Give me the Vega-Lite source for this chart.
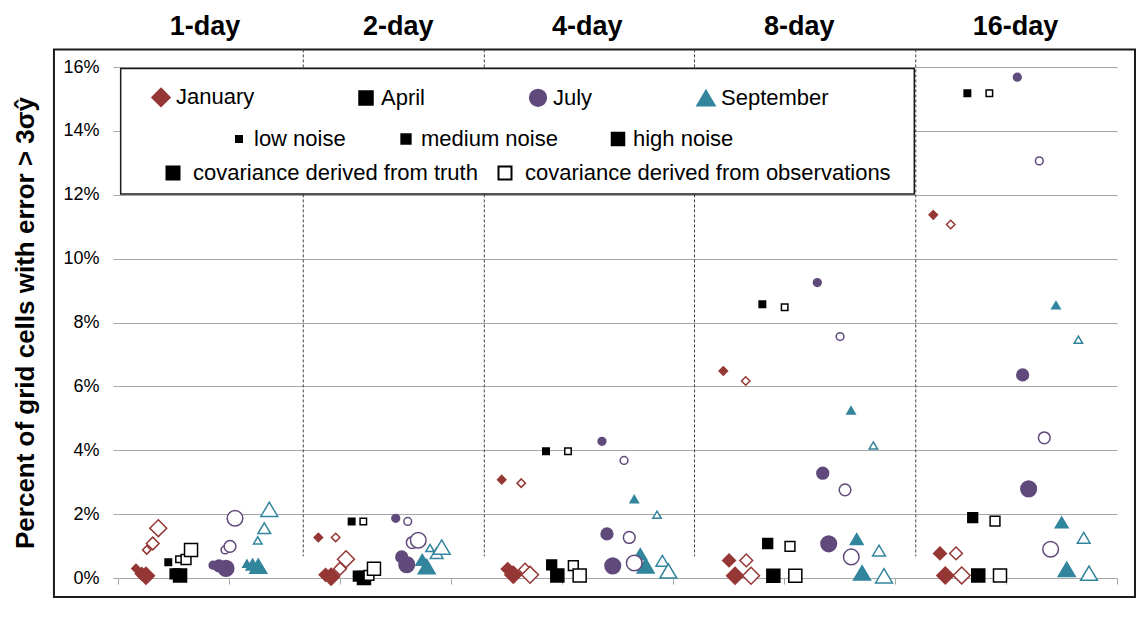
{
  "$schema": "https://vega.github.io/schema/vega-lite/v6.json",
  "width": 999,
  "height": 511,
  "autosize": {"type": "none"},
  "padding": {"left": 118, "top": 67, "right": 28, "bottom": 62},
  "background": "white",
  "config": {"view": {"stroke": null}, "font": "Liberation Sans"},
  "resolve": {
    "axis": {"x": "independent", "y": "independent"},
    "scale": {"fill": "independent", "shape": "independent", "stroke": "independent", "size": "independent"}
  },
  "datasets": {
    "seps": [{"x": 1.669}, {"x": 3.3}, {"x": 5.194}, {"x": 7.187}],
    "one": [{}],
    "points": [
      {"day": "1-day", "month": "January", "noise": "low", "cov": "truth", "x": 0.162, "pct": 0.30},
      {"day": "1-day", "month": "January", "noise": "medium", "cov": "truth", "x": 0.214, "pct": 0.13},
      {"day": "1-day", "month": "January", "noise": "high", "cov": "truth", "x": 0.252, "pct": 0.07},
      {"day": "1-day", "month": "January", "noise": "low", "cov": "observations", "x": 0.259, "pct": 0.88},
      {"day": "1-day", "month": "January", "noise": "medium", "cov": "observations", "x": 0.313, "pct": 1.08},
      {"day": "1-day", "month": "January", "noise": "high", "cov": "observations", "x": 0.363, "pct": 1.56},
      {"day": "1-day", "month": "April", "noise": "low", "cov": "truth", "x": 0.453, "pct": 0.49},
      {"day": "1-day", "month": "April", "noise": "medium", "cov": "truth", "x": 0.514, "pct": 0.13},
      {"day": "1-day", "month": "April", "noise": "high", "cov": "truth", "x": 0.559, "pct": 0.08},
      {"day": "1-day", "month": "April", "noise": "low", "cov": "observations", "x": 0.550, "pct": 0.59},
      {"day": "1-day", "month": "April", "noise": "medium", "cov": "observations", "x": 0.613, "pct": 0.58},
      {"day": "1-day", "month": "April", "noise": "high", "cov": "observations", "x": 0.658, "pct": 0.88},
      {"day": "1-day", "month": "July", "noise": "low", "cov": "truth", "x": 0.856, "pct": 0.40},
      {"day": "1-day", "month": "July", "noise": "medium", "cov": "truth", "x": 0.910, "pct": 0.38},
      {"day": "1-day", "month": "July", "noise": "high", "cov": "truth", "x": 0.973, "pct": 0.30},
      {"day": "1-day", "month": "July", "noise": "low", "cov": "observations", "x": 0.964, "pct": 0.88},
      {"day": "1-day", "month": "July", "noise": "medium", "cov": "observations", "x": 1.009, "pct": 0.99},
      {"day": "1-day", "month": "July", "noise": "high", "cov": "observations", "x": 1.054, "pct": 1.87},
      {"day": "1-day", "month": "September", "noise": "low", "cov": "truth", "x": 1.162, "pct": 0.45},
      {"day": "1-day", "month": "September", "noise": "medium", "cov": "truth", "x": 1.212, "pct": 0.42},
      {"day": "1-day", "month": "September", "noise": "high", "cov": "truth", "x": 1.264, "pct": 0.37},
      {"day": "1-day", "month": "September", "noise": "low", "cov": "observations", "x": 1.259, "pct": 1.18},
      {"day": "1-day", "month": "September", "noise": "medium", "cov": "observations", "x": 1.318, "pct": 1.56},
      {"day": "1-day", "month": "September", "noise": "high", "cov": "observations", "x": 1.363, "pct": 2.15},

      {"day": "2-day", "month": "January", "noise": "low", "cov": "truth", "x": 1.805, "pct": 1.27},
      {"day": "2-day", "month": "January", "noise": "medium", "cov": "truth", "x": 1.870, "pct": 0.10},
      {"day": "2-day", "month": "January", "noise": "high", "cov": "truth", "x": 1.920, "pct": 0.04},
      {"day": "2-day", "month": "January", "noise": "low", "cov": "observations", "x": 1.961, "pct": 1.27},
      {"day": "2-day", "month": "January", "noise": "medium", "cov": "observations", "x": 2.000, "pct": 0.29},
      {"day": "2-day", "month": "January", "noise": "high", "cov": "observations", "x": 2.054, "pct": 0.59},
      {"day": "2-day", "month": "April", "noise": "low", "cov": "truth", "x": 2.105, "pct": 1.77},
      {"day": "2-day", "month": "April", "noise": "medium", "cov": "truth", "x": 2.165, "pct": 0.06},
      {"day": "2-day", "month": "April", "noise": "high", "cov": "truth", "x": 2.216, "pct": 0.0},
      {"day": "2-day", "month": "April", "noise": "low", "cov": "observations", "x": 2.210, "pct": 1.77},
      {"day": "2-day", "month": "April", "noise": "medium", "cov": "observations", "x": 2.261, "pct": 0.08},
      {"day": "2-day", "month": "April", "noise": "high", "cov": "observations", "x": 2.306, "pct": 0.29},
      {"day": "2-day", "month": "July", "noise": "low", "cov": "truth", "x": 2.502, "pct": 1.87},
      {"day": "2-day", "month": "July", "noise": "medium", "cov": "truth", "x": 2.556, "pct": 0.66},
      {"day": "2-day", "month": "July", "noise": "high", "cov": "truth", "x": 2.601, "pct": 0.42},
      {"day": "2-day", "month": "July", "noise": "low", "cov": "observations", "x": 2.610, "pct": 1.77},
      {"day": "2-day", "month": "July", "noise": "medium", "cov": "observations", "x": 2.651, "pct": 1.11},
      {"day": "2-day", "month": "July", "noise": "high", "cov": "observations", "x": 2.705, "pct": 1.18},
      {"day": "2-day", "month": "September", "noise": "low", "cov": "truth", "x": 2.700, "pct": 1.15},
      {"day": "2-day", "month": "September", "noise": "medium", "cov": "truth", "x": 2.741, "pct": 0.57},
      {"day": "2-day", "month": "September", "noise": "high", "cov": "truth", "x": 2.781, "pct": 0.36},
      {"day": "2-day", "month": "September", "noise": "low", "cov": "observations", "x": 2.811, "pct": 0.94},
      {"day": "2-day", "month": "September", "noise": "medium", "cov": "observations", "x": 2.871, "pct": 0.78},
      {"day": "2-day", "month": "September", "noise": "high", "cov": "observations", "x": 2.916, "pct": 0.97},

      {"day": "4-day", "month": "January", "noise": "low", "cov": "truth", "x": 3.457, "pct": 3.08},
      {"day": "4-day", "month": "January", "noise": "medium", "cov": "truth", "x": 3.511, "pct": 0.28},
      {"day": "4-day", "month": "January", "noise": "high", "cov": "truth", "x": 3.561, "pct": 0.10},
      {"day": "4-day", "month": "January", "noise": "low", "cov": "observations", "x": 3.633, "pct": 2.97},
      {"day": "4-day", "month": "January", "noise": "medium", "cov": "observations", "x": 3.667, "pct": 0.26},
      {"day": "4-day", "month": "January", "noise": "high", "cov": "observations", "x": 3.712, "pct": 0.10},
      {"day": "4-day", "month": "April", "noise": "low", "cov": "truth", "x": 3.856, "pct": 3.97},
      {"day": "4-day", "month": "April", "noise": "medium", "cov": "truth", "x": 3.907, "pct": 0.41},
      {"day": "4-day", "month": "April", "noise": "high", "cov": "truth", "x": 3.958, "pct": 0.08},
      {"day": "4-day", "month": "April", "noise": "low", "cov": "observations", "x": 4.054, "pct": 3.97},
      {"day": "4-day", "month": "April", "noise": "medium", "cov": "observations", "x": 4.102, "pct": 0.39},
      {"day": "4-day", "month": "April", "noise": "high", "cov": "observations", "x": 4.159, "pct": 0.08},
      {"day": "4-day", "month": "July", "noise": "low", "cov": "truth", "x": 4.360, "pct": 4.28},
      {"day": "4-day", "month": "July", "noise": "medium", "cov": "truth", "x": 4.405, "pct": 1.38},
      {"day": "4-day", "month": "July", "noise": "high", "cov": "truth", "x": 4.457, "pct": 0.38},
      {"day": "4-day", "month": "July", "noise": "low", "cov": "observations", "x": 4.559, "pct": 3.68},
      {"day": "4-day", "month": "July", "noise": "medium", "cov": "observations", "x": 4.606, "pct": 1.27},
      {"day": "4-day", "month": "July", "noise": "high", "cov": "observations", "x": 4.651, "pct": 0.47},
      {"day": "4-day", "month": "September", "noise": "low", "cov": "truth", "x": 4.651, "pct": 2.47},
      {"day": "4-day", "month": "September", "noise": "medium", "cov": "truth", "x": 4.705, "pct": 0.75},
      {"day": "4-day", "month": "September", "noise": "high", "cov": "truth", "x": 4.754, "pct": 0.38},
      {"day": "4-day", "month": "September", "noise": "low", "cov": "observations", "x": 4.856, "pct": 1.98},
      {"day": "4-day", "month": "September", "noise": "medium", "cov": "observations", "x": 4.904, "pct": 0.54},
      {"day": "4-day", "month": "September", "noise": "high", "cov": "observations", "x": 4.958, "pct": 0.22},

      {"day": "8-day", "month": "January", "noise": "low", "cov": "truth", "x": 5.453, "pct": 6.48},
      {"day": "8-day", "month": "January", "noise": "medium", "cov": "truth", "x": 5.505, "pct": 0.55},
      {"day": "8-day", "month": "January", "noise": "high", "cov": "truth", "x": 5.559, "pct": 0.07},
      {"day": "8-day", "month": "January", "noise": "low", "cov": "observations", "x": 5.655, "pct": 6.17},
      {"day": "8-day", "month": "January", "noise": "medium", "cov": "observations", "x": 5.660, "pct": 0.55},
      {"day": "8-day", "month": "January", "noise": "high", "cov": "observations", "x": 5.703, "pct": 0.07},
      {"day": "8-day", "month": "April", "noise": "low", "cov": "truth", "x": 5.805, "pct": 8.57},
      {"day": "8-day", "month": "April", "noise": "medium", "cov": "truth", "x": 5.853, "pct": 1.08},
      {"day": "8-day", "month": "April", "noise": "high", "cov": "truth", "x": 5.904, "pct": 0.07},
      {"day": "8-day", "month": "April", "noise": "low", "cov": "observations", "x": 6.006, "pct": 8.48},
      {"day": "8-day", "month": "April", "noise": "medium", "cov": "observations", "x": 6.054, "pct": 0.99},
      {"day": "8-day", "month": "April", "noise": "high", "cov": "observations", "x": 6.102, "pct": 0.07},
      {"day": "8-day", "month": "July", "noise": "low", "cov": "truth", "x": 6.300, "pct": 9.25},
      {"day": "8-day", "month": "July", "noise": "medium", "cov": "truth", "x": 6.349, "pct": 3.28},
      {"day": "8-day", "month": "July", "noise": "high", "cov": "truth", "x": 6.403, "pct": 1.07},
      {"day": "8-day", "month": "July", "noise": "low", "cov": "observations", "x": 6.505, "pct": 7.56},
      {"day": "8-day", "month": "July", "noise": "medium", "cov": "observations", "x": 6.550, "pct": 2.76},
      {"day": "8-day", "month": "July", "noise": "high", "cov": "observations", "x": 6.606, "pct": 0.66},
      {"day": "8-day", "month": "September", "noise": "low", "cov": "truth", "x": 6.604, "pct": 5.25},
      {"day": "8-day", "month": "September", "noise": "medium", "cov": "truth", "x": 6.655, "pct": 1.22},
      {"day": "8-day", "month": "September", "noise": "high", "cov": "truth", "x": 6.703, "pct": 0.16},
      {"day": "8-day", "month": "September", "noise": "low", "cov": "observations", "x": 6.805, "pct": 4.15},
      {"day": "8-day", "month": "September", "noise": "medium", "cov": "observations", "x": 6.856, "pct": 0.86},
      {"day": "8-day", "month": "September", "noise": "high", "cov": "observations", "x": 6.901, "pct": 0.07},

      {"day": "16-day", "month": "January", "noise": "low", "cov": "truth", "x": 7.345, "pct": 11.37},
      {"day": "16-day", "month": "January", "noise": "medium", "cov": "truth", "x": 7.405, "pct": 0.77},
      {"day": "16-day", "month": "January", "noise": "high", "cov": "truth", "x": 7.453, "pct": 0.08},
      {"day": "16-day", "month": "January", "noise": "low", "cov": "observations", "x": 7.502, "pct": 11.07},
      {"day": "16-day", "month": "January", "noise": "medium", "cov": "observations", "x": 7.550, "pct": 0.77},
      {"day": "16-day", "month": "January", "noise": "high", "cov": "observations", "x": 7.601, "pct": 0.08},
      {"day": "16-day", "month": "April", "noise": "low", "cov": "truth", "x": 7.652, "pct": 15.18},
      {"day": "16-day", "month": "April", "noise": "medium", "cov": "truth", "x": 7.700, "pct": 1.89},
      {"day": "16-day", "month": "April", "noise": "high", "cov": "truth", "x": 7.750, "pct": 0.08},
      {"day": "16-day", "month": "April", "noise": "low", "cov": "observations", "x": 7.850, "pct": 15.18},
      {"day": "16-day", "month": "April", "noise": "medium", "cov": "observations", "x": 7.901, "pct": 1.78},
      {"day": "16-day", "month": "April", "noise": "high", "cov": "observations", "x": 7.946, "pct": 0.08},
      {"day": "16-day", "month": "July", "noise": "low", "cov": "truth", "x": 8.102, "pct": 15.68},
      {"day": "16-day", "month": "July", "noise": "medium", "cov": "truth", "x": 8.150, "pct": 6.36},
      {"day": "16-day", "month": "July", "noise": "high", "cov": "truth", "x": 8.204, "pct": 2.79},
      {"day": "16-day", "month": "July", "noise": "low", "cov": "observations", "x": 8.300, "pct": 13.06},
      {"day": "16-day", "month": "July", "noise": "medium", "cov": "observations", "x": 8.345, "pct": 4.39},
      {"day": "16-day", "month": "July", "noise": "high", "cov": "observations", "x": 8.402, "pct": 0.90},
      {"day": "16-day", "month": "September", "noise": "low", "cov": "truth", "x": 8.450, "pct": 8.54},
      {"day": "16-day", "month": "September", "noise": "medium", "cov": "truth", "x": 8.502, "pct": 1.74},
      {"day": "16-day", "month": "September", "noise": "high", "cov": "truth", "x": 8.547, "pct": 0.27},
      {"day": "16-day", "month": "September", "noise": "low", "cov": "observations", "x": 8.652, "pct": 7.46},
      {"day": "16-day", "month": "September", "noise": "medium", "cov": "observations", "x": 8.700, "pct": 1.26},
      {"day": "16-day", "month": "September", "noise": "high", "cov": "observations", "x": 8.748, "pct": 0.15}
    ]
  },
  "layer": [
    {
      "data": {"name": "one"},
      "mark": {"type": "rect", "fill": null, "stroke": "#1a1a1a", "strokeWidth": 2},
      "encoding": {
        "x": {"datum": -0.577, "type": "quantitative", "scale": {"domain": [0, 9], "nice": false, "zero": false}, "axis": null},
        "x2": {"datum": 9.162},
        "y": {"datum": 16.55, "type": "quantitative", "scale": {"domain": [0, 16], "nice": false}, "axis": null},
        "y2": {"datum": -0.594}
      }
    },
    {
      "data": {"name": "seps"},
      "mark": {"type": "rule", "stroke": "#404040", "strokeWidth": 1, "strokeDash": [3, 2]},
      "encoding": {
        "x": {
          "field": "x", "type": "quantitative",
          "scale": {"domain": [0, 9], "nice": false, "zero": false},
          "axis": {
            "orient": "top", "values": [0.779, 2.52, 4.223, 6.133, 8.081],
            "labelExpr": "datum.value < 1.5 ? '1-day' : datum.value < 3.5 ? '2-day' : datum.value < 5 ? '4-day' : datum.value < 7 ? '8-day' : '16-day'",
            "ticks": false, "tickSize": 0, "domain": false, "grid": false,
            "labelFontSize": 27, "labelFontWeight": "bold", "labelColor": "#000000",
            "labelPadding": 33, "labelBaseline": "alphabetic", "labelOverlap": false, "labelFlush": false,
            "title": null
          }
        },
        "y": {"datum": 16.55, "type": "quantitative", "scale": {"domain": [0, 16], "nice": false}, "axis": null},
        "y2": {"datum": 0.68}
      }
    },
    {
      "data": {"name": "one"},
      "mark": {"type": "rect", "fill": "white", "stroke": "#1a1a1a", "strokeWidth": 1.5},
      "encoding": {
        "x": {"datum": 0.024, "type": "quantitative", "scale": {"domain": [0, 9], "nice": false, "zero": false}, "axis": null},
        "x2": {"datum": 7.174},
        "y": {"datum": 15.95, "type": "quantitative", "scale": {"domain": [0, 16], "nice": false}, "axis": null},
        "y2": {"datum": 12.02}
      }
    },
    {
      "data": {"name": "points"},
      "transform": [{"filter": "datum.cov === 'truth'"}],
      "mark": {"type": "point", "filled": true, "strokeWidth": 1.5, "opacity": 1},
      "encoding": {
        "x": {
          "field": "x", "type": "quantitative",
          "scale": {"domain": [0, 9], "nice": false, "zero": false},
          "axis": {
            "orient": "bottom", "values": [0, 1, 2, 3, 4, 5, 6, 7, 8, 9],
            "labels": false, "ticks": true, "tickSize": 6, "tickColor": "#A6A6A6", "tickWidth": 1,
            "domain": false, "grid": false, "title": null
          }
        },
        "y": {
          "field": "pct", "type": "quantitative",
          "scale": {"domain": [0, 16], "nice": false},
          "axis": {
            "values": [0, 2, 4, 6, 8, 10, 12, 14, 16],
            "labelExpr": "datum.value + '%'",
            "grid": true, "gridColor": "#A6A6A6", "gridWidth": 1,
            "ticks": true, "tickColor": "#A6A6A6", "tickSize": 5, "domain": false,
            "labelFontSize": 18, "labelColor": "#000000", "labelPadding": 14,
            "title": "Percent of grid cells with error > 3σŷ",
            "titleFontSize": 26, "titleFontWeight": "bold", "titleColor": "#000000", "titlePadding": 24
          }
        },
        "shape": {
          "field": "month", "type": "nominal",
          "scale": {
            "domain": ["January", "April", "July", "September"],
            "range": ["M0,-1.3L1.3,0L0,1.3L-1.3,0Z", "M-1,-1L1,-1L1,1L-1,1Z", "M1.2,0A1.2,1.2,0,1,1,-1.2,0A1.2,1.2,0,1,1,1.2,0Z", "M0,-1.1L1.3,1.1L-1.3,1.1Z"]
          },
          "legend": {
            "orient": "none", "legendX": 32, "legendY": 19, "direction": "horizontal", "columns": 4,
            "columnPadding": 100, "title": null, "labelFontSize": 22, "labelColor": "#000000",
            "labelOffset": 4, "labelLimit": 500, "symbolSize": 196, "symbolStrokeWidth": 1.5, "padding": 0
          }
        },
        "fill": {
          "field": "month", "type": "nominal",
          "scale": {"domain": ["January", "April", "July", "September"], "range": ["#953735", "#000000", "#604A7B", "#31859C"]}
        },
        "stroke": {
          "field": "month", "type": "nominal",
          "scale": {"domain": ["January", "April", "July", "September"], "range": ["#953735", "#000000", "#604A7B", "#31859C"]}
        },
        "size": {
          "field": "noise", "type": "ordinal",
          "scale": {"type": "ordinal", "domain": ["low", "medium", "high"], "range": [42, 96, 169]},
          "legend": {
            "orient": "none", "legendX": 110, "legendY": 61, "direction": "horizontal", "columns": 3,
            "columnPadding": 49, "title": null, "labelFontSize": 22, "labelColor": "#000000",
            "labelOffset": 4, "labelLimit": 500, "labelExpr": "datum.label + ' noise'",
            "symbolType": "square", "symbolFillColor": "#000000", "symbolStrokeColor": "#000000",
            "symbolStrokeWidth": 1.5, "padding": 0
          }
        }
      }
    },
    {
      "data": {"name": "points"},
      "transform": [{"filter": "datum.cov === 'observations'"}],
      "mark": {"type": "point", "filled": true, "strokeWidth": 1.5, "opacity": 1},
      "encoding": {
        "x": {"field": "x", "type": "quantitative", "scale": {"domain": [0, 9], "nice": false, "zero": false}, "axis": null},
        "y": {"field": "pct", "type": "quantitative", "scale": {"domain": [0, 16], "nice": false}, "axis": null},
        "shape": {
          "field": "month", "type": "nominal",
          "scale": {
            "domain": ["January", "April", "July", "September"],
            "range": ["M0,-1.3L1.3,0L0,1.3L-1.3,0Z", "M-1,-1L1,-1L1,1L-1,1Z", "M1.2,0A1.2,1.2,0,1,1,-1.2,0A1.2,1.2,0,1,1,1.2,0Z", "M0,-1.1L1.3,1.1L-1.3,1.1Z"]
          },
          "legend": null
        },
        "stroke": {
          "field": "month", "type": "nominal",
          "scale": {"domain": ["January", "April", "July", "September"], "range": ["#953735", "#000000", "#604A7B", "#31859C"]},
          "legend": null
        },
        "size": {
          "field": "noise", "type": "ordinal",
          "scale": {"type": "ordinal", "domain": ["low", "medium", "high"], "range": [42, 96, 169]},
          "legend": null
        },
        "fill": {
          "field": "cov", "type": "nominal",
          "scale": {"domain": ["truth", "observations"], "range": ["#000000", "#ffffff"]},
          "legend": {
            "orient": "none", "legendX": 44, "legendY": 95, "direction": "horizontal", "columns": 2,
            "columnPadding": 16, "title": null, "labelFontSize": 22, "labelColor": "#000000",
            "labelOffset": 9, "labelLimit": 600, "labelExpr": "'covariance derived from ' + datum.label",
            "symbolType": "square", "symbolSize": 169, "symbolStrokeColor": "#000000",
            "symbolStrokeWidth": 2, "padding": 0
          }
        }
      }
    }
  ]
}
